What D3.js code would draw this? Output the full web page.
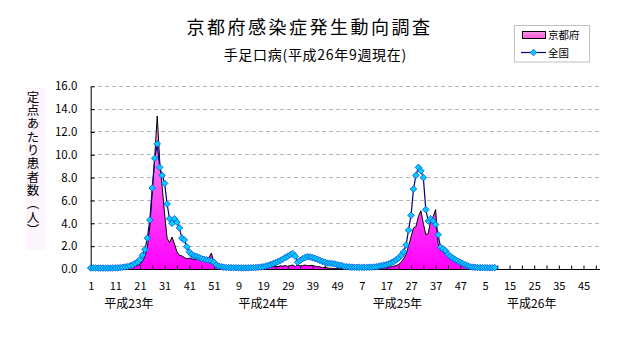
<!DOCTYPE html>
<html><head><meta charset="utf-8">
<script src="https://cdn.jsdelivr.net/npm/d3@7"></script>
<style>
html,body{margin:0;padding:0;background:#fff;}
svg{display:block;font-family:"Noto Sans CJK JP","Noto Sans",sans-serif;}
</style></head><body>
<svg id="chart" width="632" height="348"></svg>
<script>
// ---------- data ----------
const chartTitle = "京都府感染症発生動向調査";
const chartSubtitle = "手足口病(平成26年9週現在)";
const yAxisTitle = "定点あたり患者数（人）";
const seriesNames = ["京都府", "全国"];
const yTicks = [0, 2, 4, 6, 8, 10, 12, 14, 16];
const yearNames = ["平成23年", "平成24年", "平成25年", "平成26年"];
const yearLabelWeekIndex = [15.5, 70, 124.5, 179];
const xTickLabels = ["1","11","21","31","41","51","9","19","29","39","49","7","17","27","37","47","5","15","25","35","45"];

const kyotoH23 = [0.03,0.05,0.03,0.02,0.03,0.02,0.02,0.03,0.02,0.03,0.03,0.05,0.05,0.06,0.08,0.1,0.12,
  0.15,0.2,0.3,0.4,0.65,1.1,1.9,3.8,6.8,9.9,13.4,9.5,7.2,4.8,2.7,2.3,2.8,2.2,1.5,1.2,1.15,1.0,0.9,
  0.95,0.9,0.8,0.9,0.85,0.8,0.75,0.9,1.0,1.4,0.55,0.15];
const kyotoH24 = [0.1,0.05,0.03,0.02,0.03,0.02,0.03,0.02,0.03,0.04,0.03,0.04,0.03,0.05,0.04,0.05,0.04,0.05,0.05,
  0.08,0.12,0.18,0.2,0.25,0.2,0.28,0.25,0.3,0.22,0.3,0.35,0.2,0.42,0.25,0.3,0.35,0.28,0.3,0.32,0.25,0.22,0.2,
  0.12,0.15,0.1,0.06,0.05,0.04,0.03,0.03,0.02,0.02];
const kyotoH25 = [0.02,0.02,0.03,0.02,0.03,0.03,0.04,0.03,0.04,0.04,0.05,0.05,0.05,0.05,
  0.08,0.1,0.12,0.15,0.2,0.25,0.3,0.4,0.6,0.9,1.3,2.0,2.8,3.6,3.7,4.6,5.1,4.0,3.0,3.1,4.3,4.6,5.2,
  2.2,1.8,1.5,1.3,1.1,1.0,0.9,0.8,0.72,0.62,0.52,0.42,0.32,0.24,0.16];
const kyotoH26 = [0.1,0.06,0.04,0.03,0.03,0.02,0.02,0.02,0.03];

const nationalH23 = [0.09,0.1,0.09,0.08,0.08,0.08,0.07,0.08,0.08,0.09,0.1,0.1,
  0.12,0.15,0.18,0.22,0.28,0.35,0.48,0.62,0.82,1.2,1.7,2.7,4.3,7.1,9.7,10.96,8.9,8.2,7.5,5.7,4.4,4.0,
  4.4,4.1,3.6,2.7,2.55,1.95,1.5,1.25,1.15,1.1,1.0,0.9,0.85,0.8,0.75,0.7,0.6,0.35];
const nationalH24 = [0.25,0.2,0.15,0.13,0.12,0.12,0.11,0.11,0.1,0.1,0.1,0.1,0.1,0.11,0.12,0.13,0.15,0.17,0.2,
  0.25,0.3,0.38,0.47,0.55,0.65,0.75,0.87,1.0,1.12,1.25,1.35,1.12,0.6,0.75,0.9,1.0,1.08,1.06,1.0,0.93,0.85,
  0.76,0.66,0.6,0.52,0.5,0.48,0.44,0.38,0.33,0.3,0.2];
const nationalH25 = [0.2,0.18,0.16,0.15,0.15,0.14,0.14,0.14,0.15,0.15,0.16,0.18,0.2,0.24,
  0.3,0.33,0.38,0.45,0.55,0.65,0.8,0.95,1.2,1.5,2.1,3.4,4.7,7.0,8.2,8.9,8.6,8.0,5.2,4.2,4.4,4.2,3.9,
  3.0,1.9,1.75,1.6,1.3,1.1,0.95,0.8,0.7,0.58,0.47,0.37,0.27,0.2,0.16];
const nationalH26 = [0.15,0.13,0.12,0.12,0.12,0.11,0.11,0.11,0.12];

// ---------- build ----------
const kyoto = [...kyotoH23, ...kyotoH24, ...kyotoH25, ...kyotoH26];
const national = [...nationalH23, ...nationalH24, ...nationalH25, ...nationalH26];

const svg = d3.select("#chart");
const x = d3.scaleLinear().domain([0, 206.5]).range([90.7, 599.5]);
const y = d3.scaleLinear().domain([0, 16]).range([269, 86.3]);

const defs = svg.append("defs");
const g1 = defs.append("linearGradient").attr("id", "kg")
  .attr("gradientUnits", "userSpaceOnUse")
  .attr("x1", 0).attr("x2", 0).attr("y1", y(13.4)).attr("y2", y(0));
g1.append("stop").attr("offset", "0%").attr("stop-color", "#ff9ee6");
g1.append("stop").attr("offset", "100%").attr("stop-color", "#ff00ff");
const g2 = defs.append("linearGradient").attr("id", "lg")
  .attr("x1", 0).attr("x2", 0).attr("y1", 0).attr("y2", 1);
g2.append("stop").attr("offset", "0%").attr("stop-color", "#ff99e6");
g2.append("stop").attr("offset", "100%").attr("stop-color", "#ff55dd");

// titles
svg.append("text").attr("x", 309.5).attr("y", 34.3).attr("text-anchor", "middle")
  .attr("font-size", 18).attr("letter-spacing", 2.5).attr("fill", "#000").text(chartTitle);
svg.append("text").attr("x", 315.3).attr("y", 60.3).attr("text-anchor", "middle")
  .attr("font-size", 14).attr("letter-spacing", 0.7).attr("fill", "#000").text(chartSubtitle);

// y-axis title
svg.append("rect").attr("x", 26).attr("y", 88).attr("width", 20).attr("height", 162).attr("fill", "#fdf5fd");
svg.append("text").attr("x", 33).attr("y", 90.7)
  .style("writing-mode", "vertical-rl")
  .attr("font-size", 12.5).attr("letter-spacing", 0.85).attr("fill", "#000").text(yAxisTitle);

// gridlines
svg.append("g").selectAll("line").data(yTicks.filter(v => v > 0)).join("line")
  .attr("x1", x(0)).attr("x2", x(206.5))
  .attr("y1", d => y(d)).attr("y2", d => y(d))
  .attr("stroke", "#b8b8b8").attr("stroke-width", 1).attr("stroke-dasharray", "4,3")
  .attr("shape-rendering", "crispEdges");

// Kyoto area
const area = d3.area().x((d, i) => x(i)).y0(y(0)).y1(d => y(d));
svg.append("path").datum(kyoto).attr("d", area).attr("fill", "url(#kg)");
svg.append("path").datum(kyoto).attr("d", d3.line().x((d, i) => x(i)).y(d => y(d)))
  .attr("fill", "none").attr("stroke", "#000").attr("stroke-width", 1);

// axes
const yAxis = d3.axisLeft(y).tickValues(yTicks).tickSizeInner(-4).tickSizeOuter(0)
  .tickPadding(13.4).tickFormat(d3.format(".1f"));
const gy = svg.append("g").attr("transform", `translate(${x(0)},0)`).call(yAxis);
gy.attr("font-family", null).attr("font-size", null);
gy.selectAll("text").attr("font-size", 11.5).attr("fill", "#000");
gy.selectAll("line,path").attr("stroke", "#000");

const xAxis = d3.axisBottom(x).tickValues(d3.range(0, 206, 5)).tickSizeInner(-3.5).tickSizeOuter(0)
  .tickPadding(13.6).tickFormat(d => d % 10 === 0 ? xTickLabels[d / 10] : "");
const gx = svg.append("g").attr("transform", `translate(0,${y(0)})`).call(xAxis);
gx.attr("font-family", null).attr("font-size", null);
gx.selectAll("text").attr("font-size", 11).attr("fill", "#000");
gx.selectAll("line,path").attr("stroke", "#000");

svg.append("g").selectAll("text").data(yearNames).join("text")
  .attr("x", (d, i) => x(yearLabelWeekIndex[i])).attr("y", 308.2)
  .attr("text-anchor", "middle").attr("font-size", 12).attr("fill", "#000").text(d => d);

// national line + markers
svg.append("path").datum(national).attr("d", d3.line().x((d, i) => x(i)).y(d => y(d)))
  .attr("fill", "none").attr("stroke", "#000080").attr("stroke-width", 1.2);
const diamond = "M0,-3.3L3.3,0L0,3.3L-3.3,0Z";
svg.append("g").selectAll("path").data(national).join("path")
  .attr("transform", (d, i) => `translate(${x(i)},${y(d)})`)
  .attr("d", diamond).attr("fill", "#00ccff").attr("stroke", "#0a50e0").attr("stroke-width", 0.8);

// legend
const lg = svg.append("g");
lg.append("rect").attr("x", 514.5).attr("y", 25.5).attr("width", 75).attr("height", 36.5)
  .attr("fill", "#fff").attr("stroke", "#c0c0c0");
lg.append("rect").attr("x", 522.5).attr("y", 31.5).attr("width", 23).attr("height", 7)
  .attr("fill", "url(#lg)").attr("stroke", "#000");
lg.append("text").attr("x", 548).attr("y", 39).attr("font-size", 10.5).attr("fill", "#000").text(seriesNames[0]);
lg.append("line").attr("x1", 521).attr("x2", 546).attr("y1", 52.5).attr("y2", 52.5)
  .attr("stroke", "#000080").attr("stroke-width", 1.2);
lg.append("path").attr("transform", "translate(533.5,52.5)").attr("d", diamond)
  .attr("fill", "#00ccff").attr("stroke", "#0a50e0").attr("stroke-width", 0.8);
lg.append("text").attr("x", 548).attr("y", 56.5).attr("font-size", 10.5).attr("fill", "#000").text(seriesNames[1]);
</script>
</body></html>
